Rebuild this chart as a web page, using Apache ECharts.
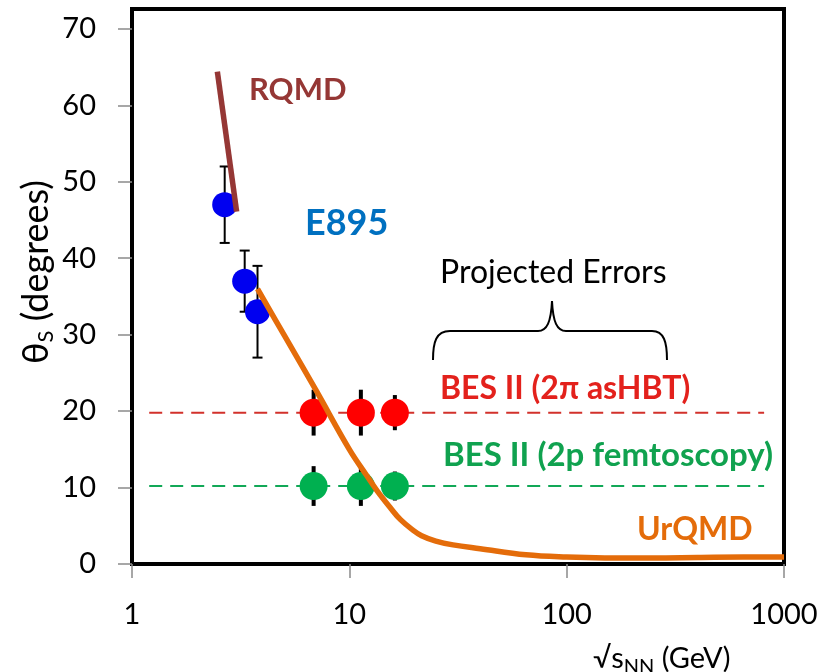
<!DOCTYPE html>
<html>
<head>
<meta charset="utf-8">
<script src="https://cdn.jsdelivr.net/npm/echarts@6/dist/echarts.min.js"></script>
<style>
  html, body { margin: 0; padding: 0; background: #fff; }
  #main { width: 821px; height: 672px; }
</style>
</head>
<body>
<div id="main"></div>
<script>
// Tick labels
const xTicks = [1, 10, 100, 1000];
const yTicks = [0, 10, 20, 30, 40, 50, 60, 70];

// E895 measurements: sqrt(s_NN) [GeV], tilt angle [deg], error [deg]
const e895Energy = [2.67, 3.3, 3.78];
const e895Theta = [47, 37, 33];
const e895Err = [5, 4, 6];

// RQMD prediction
const rqmdEnergy = [2.47, 3.03];
const rqmdTheta = [64.4, 46.1];

// UrQMD prediction
const urqmdEnergy = [3.78, 5, 7, 10, 12, 13.4, 15.5, 17.2, 19.5, 21.5, 25, 30, 40, 65, 100, 150, 250, 400, 650, 1000];
const urqmdTheta = [36, 30, 22.8, 15, 11.6, 9.6, 7.3, 5.8, 4.5, 3.7, 3.0, 2.5, 2.0, 1.2, 0.9, 0.8, 0.8, 0.85, 0.9, 0.9];

// BES II projected points
const besEnergy = [6.85, 11.3, 16.2];
const besHbtTheta = [19.8, 19.8, 19.8];
const besHbtErr = [3, 3, 2.3];
const besFemtoTheta = [10.2, 10.2, 10.2];
const besFemtoErr = [2.6, 2.6, 1.9];

// Reference levels for the projected points
const refLineEnergy = [1.2, 810];

const chart = echarts.init(document.getElementById('main'));

function pairs(xs, ys) { return xs.map((x, i) => [x, ys[i]]); }
function errRows(xs, ys, es) { return xs.map((x, i) => [x, ys[i] - es[i], ys[i] + es[i]]); }

function errorBarSeries(rows, width, cap, z) {
  return {
    type: 'custom',
    z: z,
    silent: true,
    data: rows,
    renderItem: function (params, api) {
      const x = api.value(0);
      const lo = api.coord([x, api.value(1)]);
      const hi = api.coord([x, api.value(2)]);
      const children = [{
        type: 'line',
        shape: { x1: lo[0], y1: lo[1], x2: hi[0], y2: hi[1] },
        style: { stroke: '#000', lineWidth: width }
      }];
      if (cap > 0) {
        children.push({ type: 'line', shape: { x1: lo[0] - cap, y1: lo[1], x2: lo[0] + cap, y2: lo[1] }, style: { stroke: '#000', lineWidth: width } });
        children.push({ type: 'line', shape: { x1: hi[0] - cap, y1: hi[1], x2: hi[0] + cap, y2: hi[1] }, style: { stroke: '#000', lineWidth: width } });
      }
      return { type: 'group', children: children };
    }
  };
}

const font = 'Lato, "Open Sans", sans-serif';
const braceStyle = { stroke: '#000', lineWidth: 2, fill: null };

const option = {
  animation: false,
  backgroundColor: '#fff',
  grid: {
    left: 132, right: 37, top: 9, bottom: 108,
    show: true, borderColor: '#000', borderWidth: 4, backgroundColor: 'transparent'
  },
  xAxis: {
    type: 'log', logBase: 10, min: xTicks[0], max: xTicks[xTicks.length - 1],
    axisLine: { show: false },
    axisTick: { show: true, length: 14, lineStyle: { color: '#8a8a8a', width: 1.5 } },
    axisLabel: { fontSize: 29, fontFamily: font, color: '#000', margin: 36, formatter: v => String(Math.round(v)) },
    splitLine: { show: false }
  },
  yAxis: {
    type: 'value', min: 0, max: 72.6,
    axisLine: { show: false },
    axisTick: { show: true, length: 14, lineStyle: { color: '#8a8a8a', width: 1.5 }, customValues: yTicks },
    axisLabel: { fontSize: 29, fontFamily: font, color: '#000', margin: 36, customValues: yTicks },
    splitLine: { show: false }
  },
  title: {
    text: '{t|\u221As}{s|NN}{t| (GeV)}',
    left: 588, top: 636,
    textStyle: {
      rich: {
        t: { fontSize: 29, fontFamily: font, fontWeight: 'normal', color: '#000', lineHeight: 36, verticalAlign: 'middle' },
        s: { fontSize: 20, fontFamily: font, fontWeight: 'normal', color: '#000', lineHeight: 36, verticalAlign: 'bottom' }
      }
    }
  },
  series: [
    {
      type: 'line', z: 1, silent: true, symbol: 'none',
      data: pairs(refLineEnergy, [besHbtTheta[0], besHbtTheta[0]]),
      lineStyle: { color: '#D2312B', width: 2, type: [13, 8] }
    },
    {
      type: 'line', z: 1, silent: true, symbol: 'none',
      data: pairs(refLineEnergy, [besFemtoTheta[0], besFemtoTheta[0]]),
      lineStyle: { color: '#12A857', width: 2, type: [13, 8] }
    },
    errorBarSeries(errRows(e895Energy, e895Theta, e895Err), 2, 5, 2),
    errorBarSeries(errRows(besEnergy, besHbtTheta, besHbtErr), 4, 0, 2),
    errorBarSeries(errRows(besEnergy, besFemtoTheta, besFemtoErr), 4, 0, 2),
    {
      type: 'scatter', z: 3, silent: true, symbolSize: 25,
      data: pairs(e895Energy, e895Theta),
      itemStyle: { color: '#0000F0', opacity: 1 }
    },
    {
      type: 'scatter', z: 3, silent: true, symbolSize: 28,
      data: pairs(besEnergy, besHbtTheta),
      itemStyle: { color: '#FF0000', opacity: 1 }
    },
    {
      type: 'scatter', z: 3, silent: true, symbolSize: 28,
      data: pairs(besEnergy, besFemtoTheta),
      itemStyle: { color: '#00B050', opacity: 1 }
    },
    {
      type: 'line', z: 4, silent: true, symbol: 'none',
      data: pairs(rqmdEnergy, rqmdTheta),
      lineStyle: { color: '#953735', width: 5.5 }
    },
    {
      type: 'line', z: 4, silent: true, symbol: 'none', smooth: 0.4,
      data: pairs(urqmdEnergy, urqmdTheta),
      lineStyle: { color: '#E46C0A', width: 5.5 }
    }
  ],
  graphic: [
    // y-axis title
    {
      type: 'text', z: 10, x: 36, y: 272, rotation: Math.PI / 2,
      style: {
        text: '{t|\u03B8}{s|S}{t| (degrees)}', align: 'center', verticalAlign: 'middle',
        rich: {
          t: { fontSize: 36, fontFamily: font, fill: '#000', lineHeight: 42, verticalAlign: 'middle' },
          s: { fontSize: 22, fontFamily: font, fill: '#000', lineHeight: 42, verticalAlign: 'bottom' }
        }
      }
    },
    { type: 'text', z: 10, style: { x: 249, y: 90, text: 'RQMD', fill: '#953735', font: 'bold 31px ' + font, verticalAlign: 'middle' } },
    { type: 'text', z: 10, style: { x: 305, y: 223, text: 'E895', fill: '#0070C0', font: 'bold 36px ' + font, verticalAlign: 'middle' } },
    { type: 'text', z: 10, style: { x: 440, y: 273, text: 'Projected Errors', fill: '#000', font: '32px ' + font, verticalAlign: 'middle' } },
    { type: 'text', z: 10, style: { x: 440, y: 389, text: 'BES II (2\u03C0 asHBT)', fill: '#E3211C', font: 'bold 32px ' + font, verticalAlign: 'middle' } },
    { type: 'text', z: 10, style: { x: 443, y: 455, text: 'BES II (2p femtoscopy)', fill: '#10A24F', font: 'bold 33px ' + font, verticalAlign: 'middle' } },
    { type: 'text', z: 10, style: { x: 637, y: 530, text: 'UrQMD', fill: '#E46C0A', font: 'bold 32px ' + font, verticalAlign: 'middle' } },
    // curly brace over the projected points
    { type: 'bezierCurve', z: 10, shape: { x1: 433, y1: 360, cpx1: 433, cpy1: 342, cpx2: 436, cpy2: 331, x2: 450, y2: 331 }, style: braceStyle },
    { type: 'line', z: 10, shape: { x1: 450, y1: 331, x2: 538, y2: 331 }, style: braceStyle },
    { type: 'bezierCurve', z: 10, shape: { x1: 538, y1: 331, cpx1: 547, cpy1: 331, cpx2: 551, cpy2: 322, x2: 552, y2: 301 }, style: braceStyle },
    { type: 'bezierCurve', z: 10, shape: { x1: 552, y1: 301, cpx1: 553, cpy1: 322, cpx2: 557, cpy2: 331, x2: 566, y2: 331 }, style: braceStyle },
    { type: 'line', z: 10, shape: { x1: 566, y1: 331, x2: 652, y2: 331 }, style: braceStyle },
    { type: 'bezierCurve', z: 10, shape: { x1: 652, y1: 331, cpx1: 664, cpy1: 331, cpx2: 667, cpy2: 342, x2: 667, y2: 360 }, style: braceStyle }
  ]
};

chart.setOption(option);
</script>
</body>
</html>
